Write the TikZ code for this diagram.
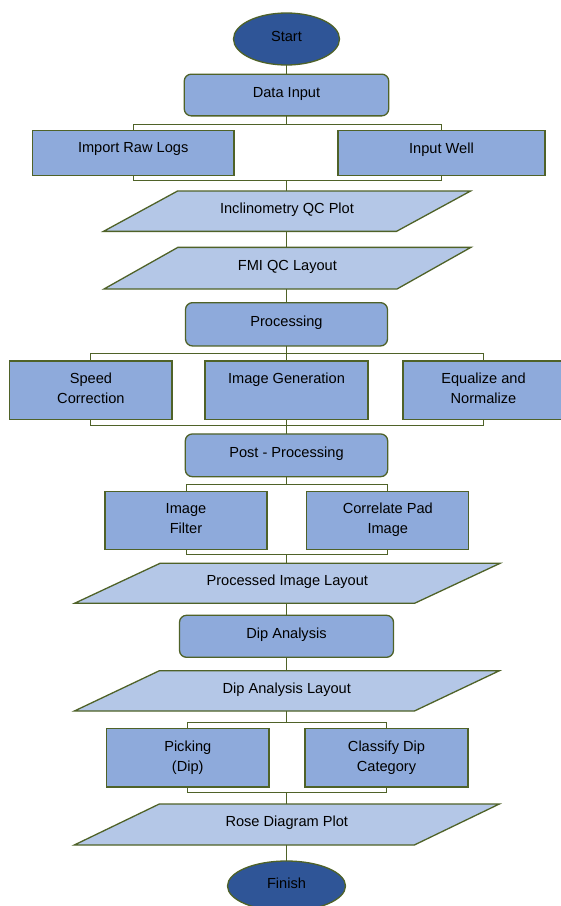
\documentclass[tikz,border=0pt]{standalone}
\usepackage{fontspec}
\setmainfont{Liberation Sans}
\usetikzlibrary{shapes.geometric,backgrounds}
\definecolor{edgegreen}{HTML}{4F6228}
\definecolor{darkfill}{HTML}{2F5597}
\definecolor{boxfill}{HTML}{8EAADB}
\definecolor{parafill}{HTML}{B4C7E7}
\tikzset{
  every node/.style={font=\fontsize{14.6}{20}\selectfont, inner sep=0pt, outer sep=0pt},
  oval/.style={ellipse, draw=edgegreen, fill=darkfill, line width=1.3pt, text height=10.4pt, text depth=6pt},
  rbox/.style={rectangle, rounded corners=7pt, draw=edgegreen, fill=boxfill, line width=1.3pt, text height=10.4pt, text depth=6pt},
  sbox/.style={rectangle, draw=edgegreen, fill=boxfill, line width=1.3pt},
  boxtext/.style={anchor=north, align=center},
  pnode/.style={rectangle, text height=10.4pt, text depth=6pt},
  pshape/.style={draw=edgegreen, fill=parafill, line width=1.3pt, line join=miter},
  link/.style={draw=edgegreen, line width=1pt},
}
\newcommand{\paradraw}[2]{\draw[pshape] ([xshift=-#2pt]#1.south west) -- (#1.south east) -- ([xshift=#2pt]#1.north east) -- (#1.north west) -- cycle;}
\begin{document}
\begin{tikzpicture}[x=1pt,y=-1pt]
\begin{scope}[on background layer]
  \fill[white] (0,0) rectangle (561,906);
\end{scope}
\clip (0,0) rectangle (561,906);

% --- nodes
\node[oval, minimum width=106pt, minimum height=52pt] (start) at (286.5,39) {Start};
\node[rbox, minimum width=204.5pt, minimum height=41.7pt] (datain) at (286.5,95) {Data Input};

\node[sbox, minimum width=201.6pt, minimum height=44.6pt] (import) at (133.2,153) {};
\node[boxtext] (importT) at ([yshift=-12pt]import.north) {Import Raw Logs};
\node[sbox, minimum width=207pt, minimum height=44.6pt] (inputwell) at (441.5,153) {};
\node[boxtext] (inputwellT) at ([yshift=-12pt]inputwell.north) {Input Well};

\node[pnode, minimum width=219pt, minimum height=40.3pt] (incl) at (287,211.2) {Inclinometry QC Plot};
\node[pnode, minimum width=219pt, minimum height=41.7pt] (fmi) at (287.4,268.2) {FMI QC Layout};

\node[rbox, minimum width=202pt, minimum height=43.3pt] (proc) at (286.5,324.3) {Processing};

\node[sbox, minimum width=162.3pt, minimum height=58.3pt] (speed) at (90.9,390.2) {};
\node[boxtext] (speedT) at ([yshift=-12pt]speed.north) {Speed\\Correction};
\node[sbox, minimum width=163pt, minimum height=58.3pt] (imggen) at (286.5,390.2) {};
\node[boxtext] (imggenT) at ([yshift=-12pt]imggen.north) {Image Generation};
\node[sbox, minimum width=161pt, minimum height=58.3pt] (equal) at (483.5,390.2) {};
\node[boxtext] (equalT) at ([yshift=-12pt]equal.north) {Equalize and\\Normalize};

\node[rbox, minimum width=202.4pt, minimum height=42.7pt] (post) at (286.5,455.3) {Post - Processing};

\node[sbox, minimum width=162pt, minimum height=58.4pt] (filter) at (186,520.5) {};
\node[boxtext] (filterT) at ([yshift=-12pt]filter.north) {Image\\Filter};
\node[sbox, minimum width=162pt, minimum height=58.4pt] (correl) at (387.8,520.5) {};
\node[boxtext] (correlT) at ([yshift=-12pt]correl.north) {Correlate Pad\\Image};

\node[pnode, minimum width=254.5pt, minimum height=40pt] (procimg) at (287.3,583.3) {Processed Image Layout};

\node[rbox, minimum width=214pt, minimum height=42pt] (dipana) at (286.5,636.3) {Dip Analysis};

\node[pnode, minimum width=255pt, minimum height=40.3pt] (diplay) at (286.8,690.9) {Dip Analysis Layout};

\node[sbox, minimum width=162.5pt, minimum height=58.3pt] (picking) at (187.8,757.9) {};
\node[boxtext] (pickingT) at ([yshift=-12pt]picking.north) {Picking\\(Dip)};
\node[sbox, minimum width=163pt, minimum height=58.3pt] (classify) at (386.5,757.9) {};
\node[boxtext] (classifyT) at ([yshift=-12pt]classify.north) {Classify Dip\\Category};

\node[pnode, minimum width=255pt, minimum height=41pt] (rose) at (286.8,824.5) {Rose Diagram Plot};

\node[oval, minimum width=118pt, minimum height=50pt] (finish) at (286.5,886) {Finish};

% --- parallelogram outlines behind their texts
\begin{scope}[on background layer]
  \paradraw{incl}{74}
  \paradraw{fmi}{74}
  \paradraw{procimg}{85.5}
  \paradraw{diplay}{85}
  \paradraw{rose}{85}
\end{scope}

% --- junction points
\coordinate (b1) at (286.5,124.3);
\coordinate (b2) at (286.5,180);
\coordinate (b3) at (286.5,353.3);
\coordinate (b4) at (286.5,425.7);
\coordinate (b5) at (286.5,484);
\coordinate (b6) at (286.5,554.3);
\coordinate (b7) at (286.5,722.7);
\coordinate (b8) at (286.5,792);

% --- connectors
\draw[link] (start.south) -- (datain.north);
\draw[link] (datain.south) -- (b1);
\draw[link] (import.north) -- (import.north |- b1) -- (inputwell.north |- b1) -- (inputwell.north);
\draw[link] (import.south) -- (import.south |- b2) -- (inputwell.south |- b2) -- (inputwell.south);
\draw[link] (b2) -- (b2 |- incl.north);
\draw[link] (b2 |- incl.south) -- (b2 |- fmi.north);
\draw[link] (b2 |- fmi.south) -- (proc.north);

\draw[link] (proc.south) -- (b3);
\draw[link] (speed.north) -- (speed.north |- b3) -- (equal.north |- b3) -- (equal.north);
\draw[link] (b3) -- (imggen.north);
\draw[link] (speed.south) -- (speed.south |- b4) -- (equal.south |- b4) -- (equal.south);
\draw[link] (imggen.south) -- (post.north);

\draw[link] (post.south) -- (b5);
\draw[link] (filter.north) -- (filter.north |- b5) -- (correl.north |- b5) -- (correl.north);
\draw[link] (filter.south) -- (filter.south |- b6) -- (correl.south |- b6) -- (correl.south);
\draw[link] (b6) -- (b6 |- procimg.north);
\draw[link] (b6 |- procimg.south) -- (dipana.north);
\draw[link] (dipana.south) -- (b6 |- diplay.north);
\draw[link] (b7 |- diplay.south) -- (b7);
\draw[link] (picking.north) -- (picking.north |- b7) -- (classify.north |- b7) -- (classify.north);
\draw[link] (picking.south) -- (picking.south |- b8) -- (classify.south |- b8) -- (classify.south);
\draw[link] (b8) -- (b8 |- rose.north);
\draw[link] (b8 |- rose.south) -- (finish.north);
\end{tikzpicture}
\end{document}
